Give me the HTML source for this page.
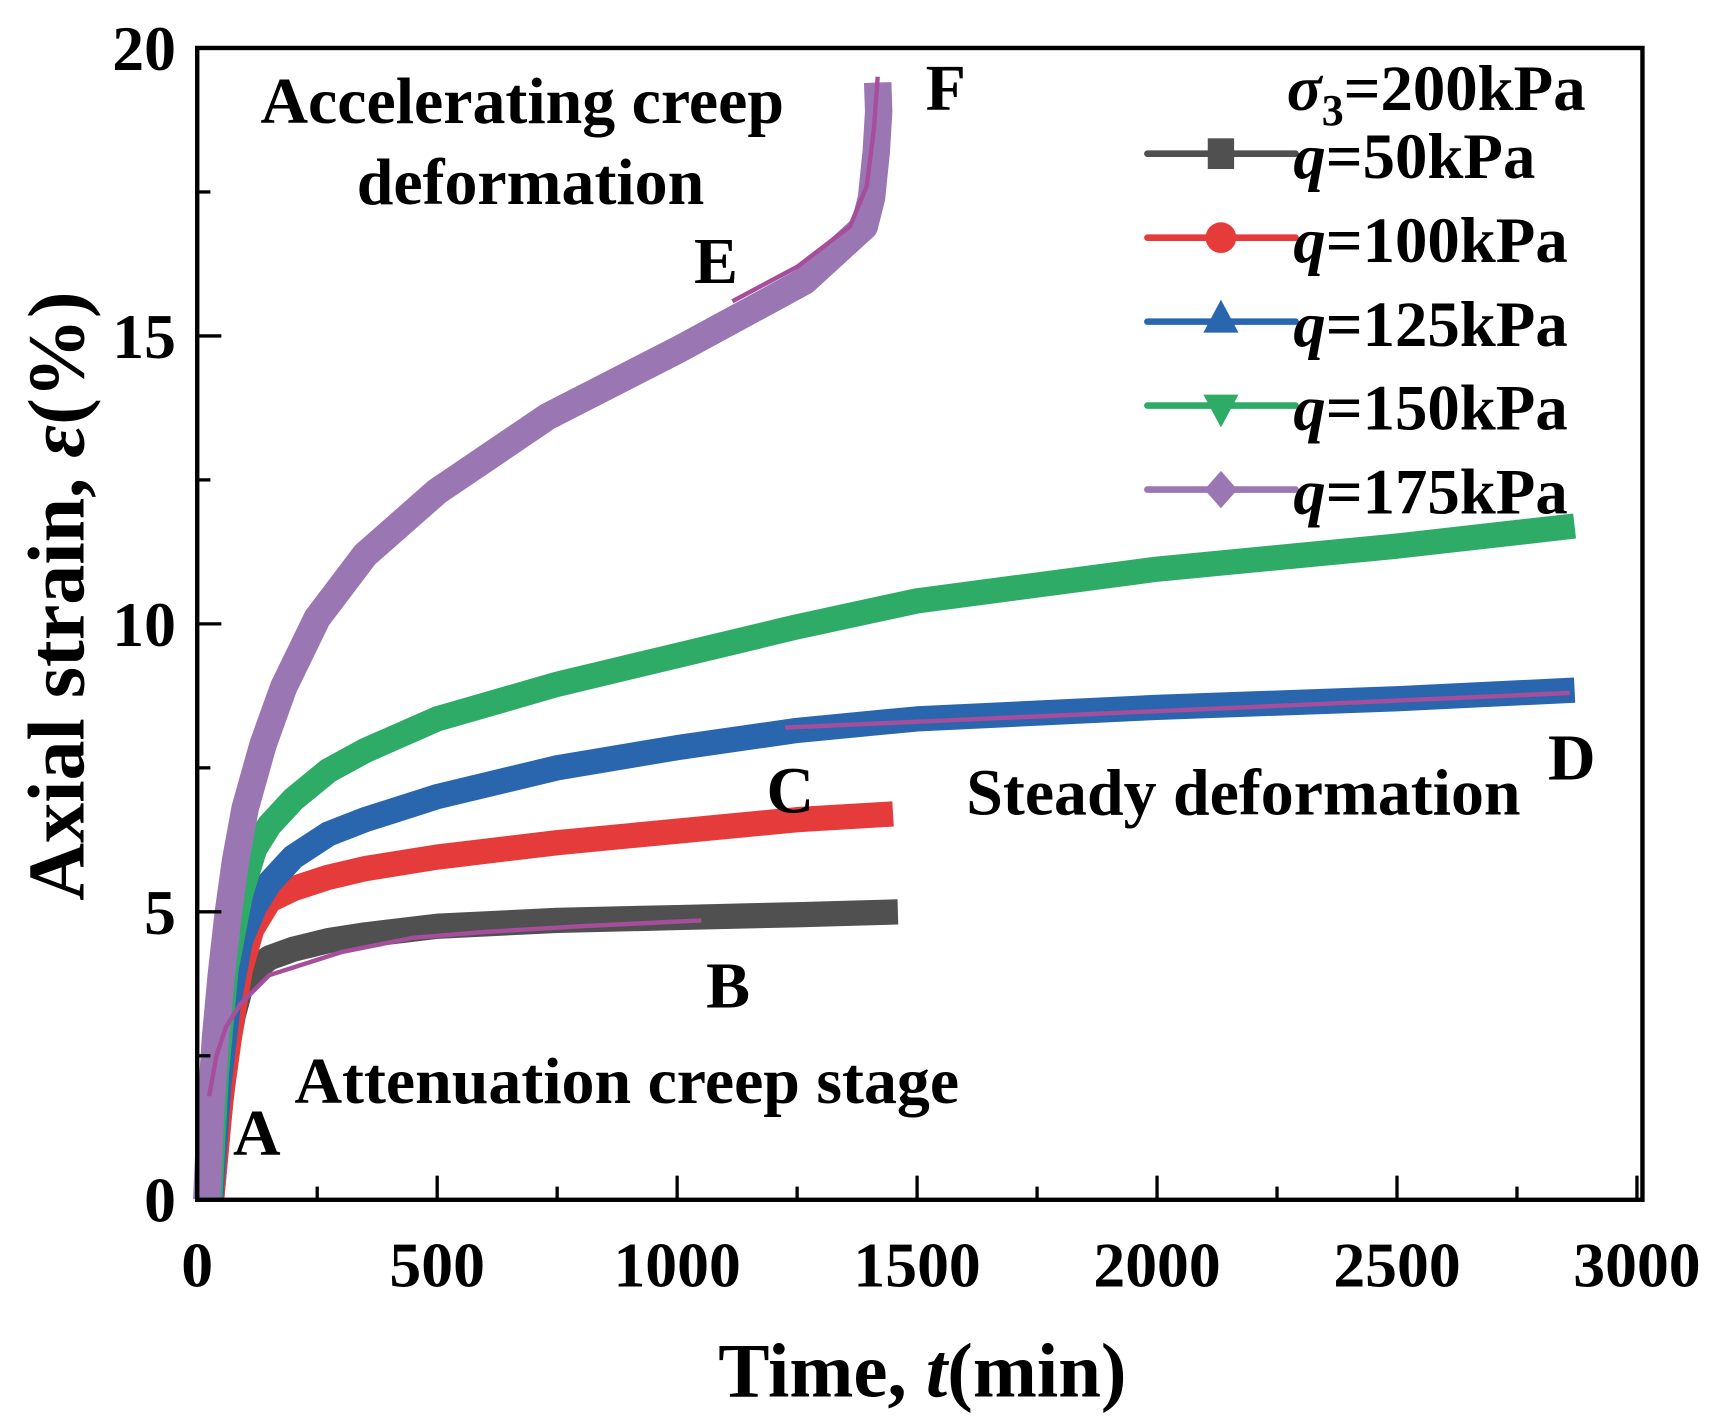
<!DOCTYPE html>
<html><head><meta charset="utf-8"><style>
html,body{margin:0;padding:0;background:#fff}
svg{display:block}
text{font-family:"Liberation Serif",serif;font-weight:bold;fill:#000}
</style></head><body>
<svg id="chart" width="1713" height="1427" viewBox="0 0 1560 1300" xmlns="http://www.w3.org/2000/svg">
<g id="plot"></g>
<g id="axes"></g>
<g font-size="60">
<text x="237" y="112">Accelerating creep</text>
<text x="483" y="186" text-anchor="middle">deformation</text>
<text x="880" y="742">Steady deformation</text>
<text x="268" y="1005">Attenuation creep stage</text>
<text x="212" y="1052">A</text>
<text x="643" y="918">B</text>
<text x="698" y="740">C</text>
<text x="1410" y="710">D</text>
<text x="632" y="258">E</text>
<text x="843" y="100">F</text>
</g>
<g id="legend" font-size="59">
<text x="1172" y="100"><tspan font-style="italic">σ</tspan><tspan font-size="40" dy="14">3</tspan><tspan dy="-14">=200kPa</tspan></text>
</g>
<text x="840" y="1272" text-anchor="middle" font-size="70">Time, <tspan font-style="italic">t</tspan>(min)</text>
<text transform="translate(76,543) rotate(-90)" text-anchor="middle" font-size="73">Axial strain, <tspan font-style="italic">ε</tspan>(%)</text>
</svg>
<script>
const seriesNames = ["q=50kPa","q=100kPa","q=125kPa","q=150kPa","q=175kPa"];
const seriesColors = ["#505050","#e63b3b","#2a66ad","#2eab67","#9a76b2"];
const t50 = [30,45,60,75,91,120,150,200,273,350,500,750,1000,1250,1460];
const e50 = [0,1.4,2.5,3.2,3.7,4.0,4.2,4.35,4.5,4.6,4.75,4.85,4.9,4.95,5.0];
const t100 = [30,50,70,90,114,150,200,273,350,500,750,1000,1250,1450];
const e100 = [0,1.8,3.0,4.0,4.7,5.2,5.4,5.6,5.75,5.95,6.2,6.4,6.6,6.7];
const t125 = [28,45,65,90,120,150,200,273,350,500,750,1000,1250,1500,2000,2500,2870];
const e125 = [0,2.0,3.4,4.5,5.1,5.5,5.95,6.35,6.6,7.0,7.5,7.85,8.15,8.35,8.55,8.7,8.85];
const t150 = [26,40,60,90,120,150,200,273,350,500,750,1000,1250,1500,2000,2500,2870];
const e150 = [0,2.2,4.0,5.3,6.1,6.5,6.95,7.45,7.8,8.35,8.95,9.45,9.95,10.4,10.95,11.35,11.7];
const t175 = [20,28,38,50,65,80,100,137,180,250,350,500,730,1000,1265,1390,1405,1415,1420,1418];
const e175 = [0,1.5,2.8,3.9,5.0,5.9,6.8,7.9,8.9,10.1,11.2,12.3,13.6,14.75,15.95,16.9,17.4,18.2,18.9,19.4];
const fitT1 = [25,40,60,90,150,300,450,600,800,1050];
const fitE1 = [1.8,2.5,3.0,3.4,3.9,4.3,4.55,4.65,4.75,4.85];
const fitT2 = [1225,2860];
const fitE2 = [8.2,8.8];
const fitT3 = [1115,1250,1360,1395,1410,1418];
const fitE3 = [15.6,16.2,16.9,17.6,18.6,19.5];
const xTicks = [0,500,1000,1500,2000,2500,3000];
const yTicks = [0,5,10,15,20];

const NS="http://www.w3.org/2000/svg";
const L=179.4,R=1491,B=1093,T=43.7;
const xs=t=>L+(t/3000)*(R-L);
const ys=e=>B-(e/20)*(B-T);
function mk(tag,attrs,parent){const el=document.createElementNS(NS,tag);for(const k in attrs)el.setAttribute(k,attrs[k]);parent.appendChild(el);return el;}
const plot=document.getElementById('plot'),axes=document.getElementById('axes'),legend=document.getElementById('legend');
const tsets=[t50,t100,t125,t150,t175],esets=[e50,e100,e125,e150,e175];
function pathD(ts,es){return ts.map((t,i)=>(i?'L':'M')+xs(t).toFixed(1)+' '+ys(es[i]).toFixed(1)).join(' ');}
for(let i=0;i<5;i++){
  const p=mk('path',{d:pathD(tsets[i],esets[i]),fill:'none',stroke:seriesColors[i],'stroke-width':i===4?25:23,'stroke-linejoin':'round'},plot);
  
  
}
[[fitT1,fitE1],[fitT2,fitE2],[fitT3,fitE3]].forEach((f,i)=>{
  const p=mk('path',{d:pathD(f[0],f[1]),fill:'none',stroke:'#a64d9c','stroke-width':4},plot);
  
  
});
const fr=mk('rect',{x:L,y:T,width:R+5-L,height:B-T,fill:'none',stroke:'#000','stroke-width':4},axes);


for(let v=0;v<=3000;v+=250){
  const len=v%500===0?22:12;
  const tk=mk('line',{x1:xs(v),x2:xs(v),y1:B,y2:B-len,stroke:'#000','stroke-width':3},axes);
  
  
}
for(let v=0;v<=20;v+=2.5){
  const len=v%5===0?22:12;
  const tk=mk('line',{x1:L,x2:L+len,y1:ys(v),y2:ys(v),stroke:'#000','stroke-width':3},axes);
  
  
}
xTicks.forEach(v=>{
  const t=mk('text',{x:xs(v),y:1172,'text-anchor':'middle','font-size':58},axes);
  t.textContent=v;
  
  
});
yTicks.forEach(v=>{
  const t=mk('text',{x:160,y:ys(v)+20,'text-anchor':'end','font-size':58},axes);
  t.textContent=v;
  
  
});
const markers=['square','circle','up','down','diamond'];
for(let i=0;i<5;i++){
  const y=140+i*76.5;
  const g=mk('g',{},legend);
  
  
  mk('line',{x1:1045,x2:1180,y1:y,y2:y,stroke:seriesColors[i],'stroke-width':6,'stroke-linecap':'round'},g);
  const c=seriesColors[i],cx=1112;
  if(markers[i]==='square')mk('rect',{x:cx-12,y:y-14,width:24,height:28,fill:c},g);
  if(markers[i]==='circle')mk('circle',{cx:cx,cy:y,r:14,fill:c},g);
  if(markers[i]==='up')mk('polygon',{points:`${cx},${y-20} ${cx-16},${y+10} ${cx+16},${y+10}`,fill:c},g);
  if(markers[i]==='down')mk('polygon',{points:`${cx-16},${y-10} ${cx+16},${y-10} ${cx},${y+20}`,fill:c},g);
  if(markers[i]==='diamond')mk('polygon',{points:`${cx},${y-17} ${cx+15},${y} ${cx},${y+17} ${cx-15},${y}`,fill:c},g);
  const t=mk('text',{x:1178,y:y+22,'font-size':59},g);
  t.innerHTML='<tspan font-style="italic">q</tspan>'+seriesNames[i].slice(1);
}
</script>
</body></html>
